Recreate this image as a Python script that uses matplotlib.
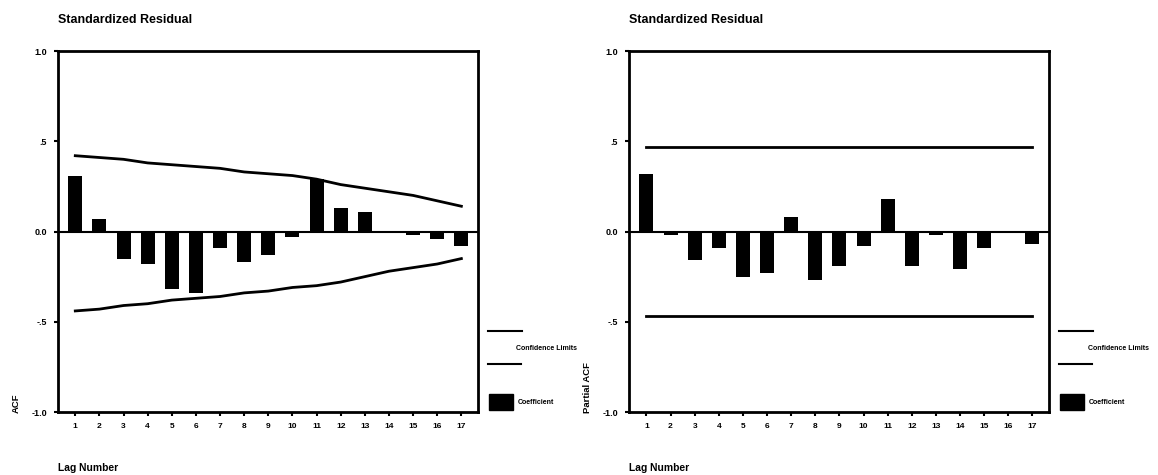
import matplotlib.pyplot as plt
import numpy as np

lags = list(range(1, 18))

# ACF of standardized residual
acf = [0.31, 0.07, -0.15, -0.18, -0.32, -0.34, -0.09, -0.17, -0.13,
       -0.03, 0.29, 0.13, 0.11, -0.01, -0.02, -0.04, -0.08]
acf_upper = [0.42, 0.41, 0.40, 0.38, 0.37, 0.36, 0.35, 0.33, 0.32,
             0.31, 0.29, 0.26, 0.24, 0.22, 0.20, 0.17, 0.14]
acf_lower = [-0.44, -0.43, -0.41, -0.40, -0.38, -0.37, -0.36, -0.34, -0.33,
             -0.31, -0.30, -0.28, -0.25, -0.22, -0.20, -0.18, -0.15]

# partial ACF of standardized residual
pacf = [0.32, -0.02, -0.16, -0.09, -0.25, -0.23, 0.08, -0.27, -0.19,
        -0.08, 0.18, -0.19, -0.02, -0.21, -0.09, 0.005, -0.07]
pacf_limit = 0.47

ytick_vals = [1.0, 0.5, 0.0, -0.5, -1.0]
ytick_labels = ['1.0', '.5', '0.0', '-.5', '-1.0']

plt.rcParams['font.family'] = ['Liberation Sans', 'DejaVu Sans']
plt.rcParams['font.weight'] = 'bold'

fig = plt.figure(figsize=(11.58, 4.75), dpi=100)


def fy(py):
    # pixel row -> figure fraction
    return 1 - py / 475


def draw_panel(left, values, upper, lower, ylab):
    ax = fig.add_axes([left, 0.1326, 0.3630, 0.760])
    ax.bar(lags, values, width=0.58, color='black', zorder=2)
    ax.plot(lags, upper, color='black', lw=2, zorder=3)
    ax.plot(lags, lower, color='black', lw=2, zorder=3)
    ax.axhline(0, color='black', lw=1.5, zorder=1)
    ax.set_xlim(0.28, 17.7)
    ax.set_ylim(-1.0, 1.0)
    ax.set_xticks(lags)
    ax.set_xticklabels([str(l) for l in lags], fontsize=6, fontweight='bold')
    ax.set_yticks(ytick_vals)
    ax.set_yticklabels(ytick_labels, fontsize=6.5, fontweight='bold')
    ax.tick_params(direction='out', length=3, width=1.5, pad=5)
    for s in ax.spines.values():
        s.set_linewidth(2)
    # texts
    fig.text(left, fy(20), 'Standardized Residual', fontsize=9,
             fontweight='bold', va='center', ha='left')
    fig.text(left, fy(468), 'Lag Number', fontsize=7.4, fontweight='bold',
             va='center', ha='left')
    fig.text(left - 0.036, fy(413), ylab, fontsize=6.8, fontweight='bold',
             rotation=90, va='bottom', ha='center')
    # legend
    lx = left + 0.3630 + 0.008
    fig.lines.append(plt.Line2D([lx, lx + 0.030], [fy(331)] * 2,
                                transform=fig.transFigure, color='black', lw=1.5))
    fig.lines.append(plt.Line2D([lx, lx + 0.029], [fy(364)] * 2,
                                transform=fig.transFigure, color='black', lw=1.5))
    fig.text(lx + 0.025, fy(349), 'Confidence Limits', fontsize=5,
             fontweight='bold', va='center', ha='left')
    fig.patches.append(plt.Rectangle((lx + 0.001, fy(410)), 0.021, 16 / 475,
                                     transform=fig.transFigure, color='black'))
    fig.text(lx + 0.026, fy(403), 'Coefficient', fontsize=5,
             fontweight='bold', va='center', ha='left')
    return ax


draw_panel(0.0500, acf, acf_upper, acf_lower, 'ACF')
draw_panel(0.5432, pacf, [pacf_limit] * 17, [-pacf_limit] * 17, 'Partial ACF')

fig.savefig('out.png', dpi=100)
